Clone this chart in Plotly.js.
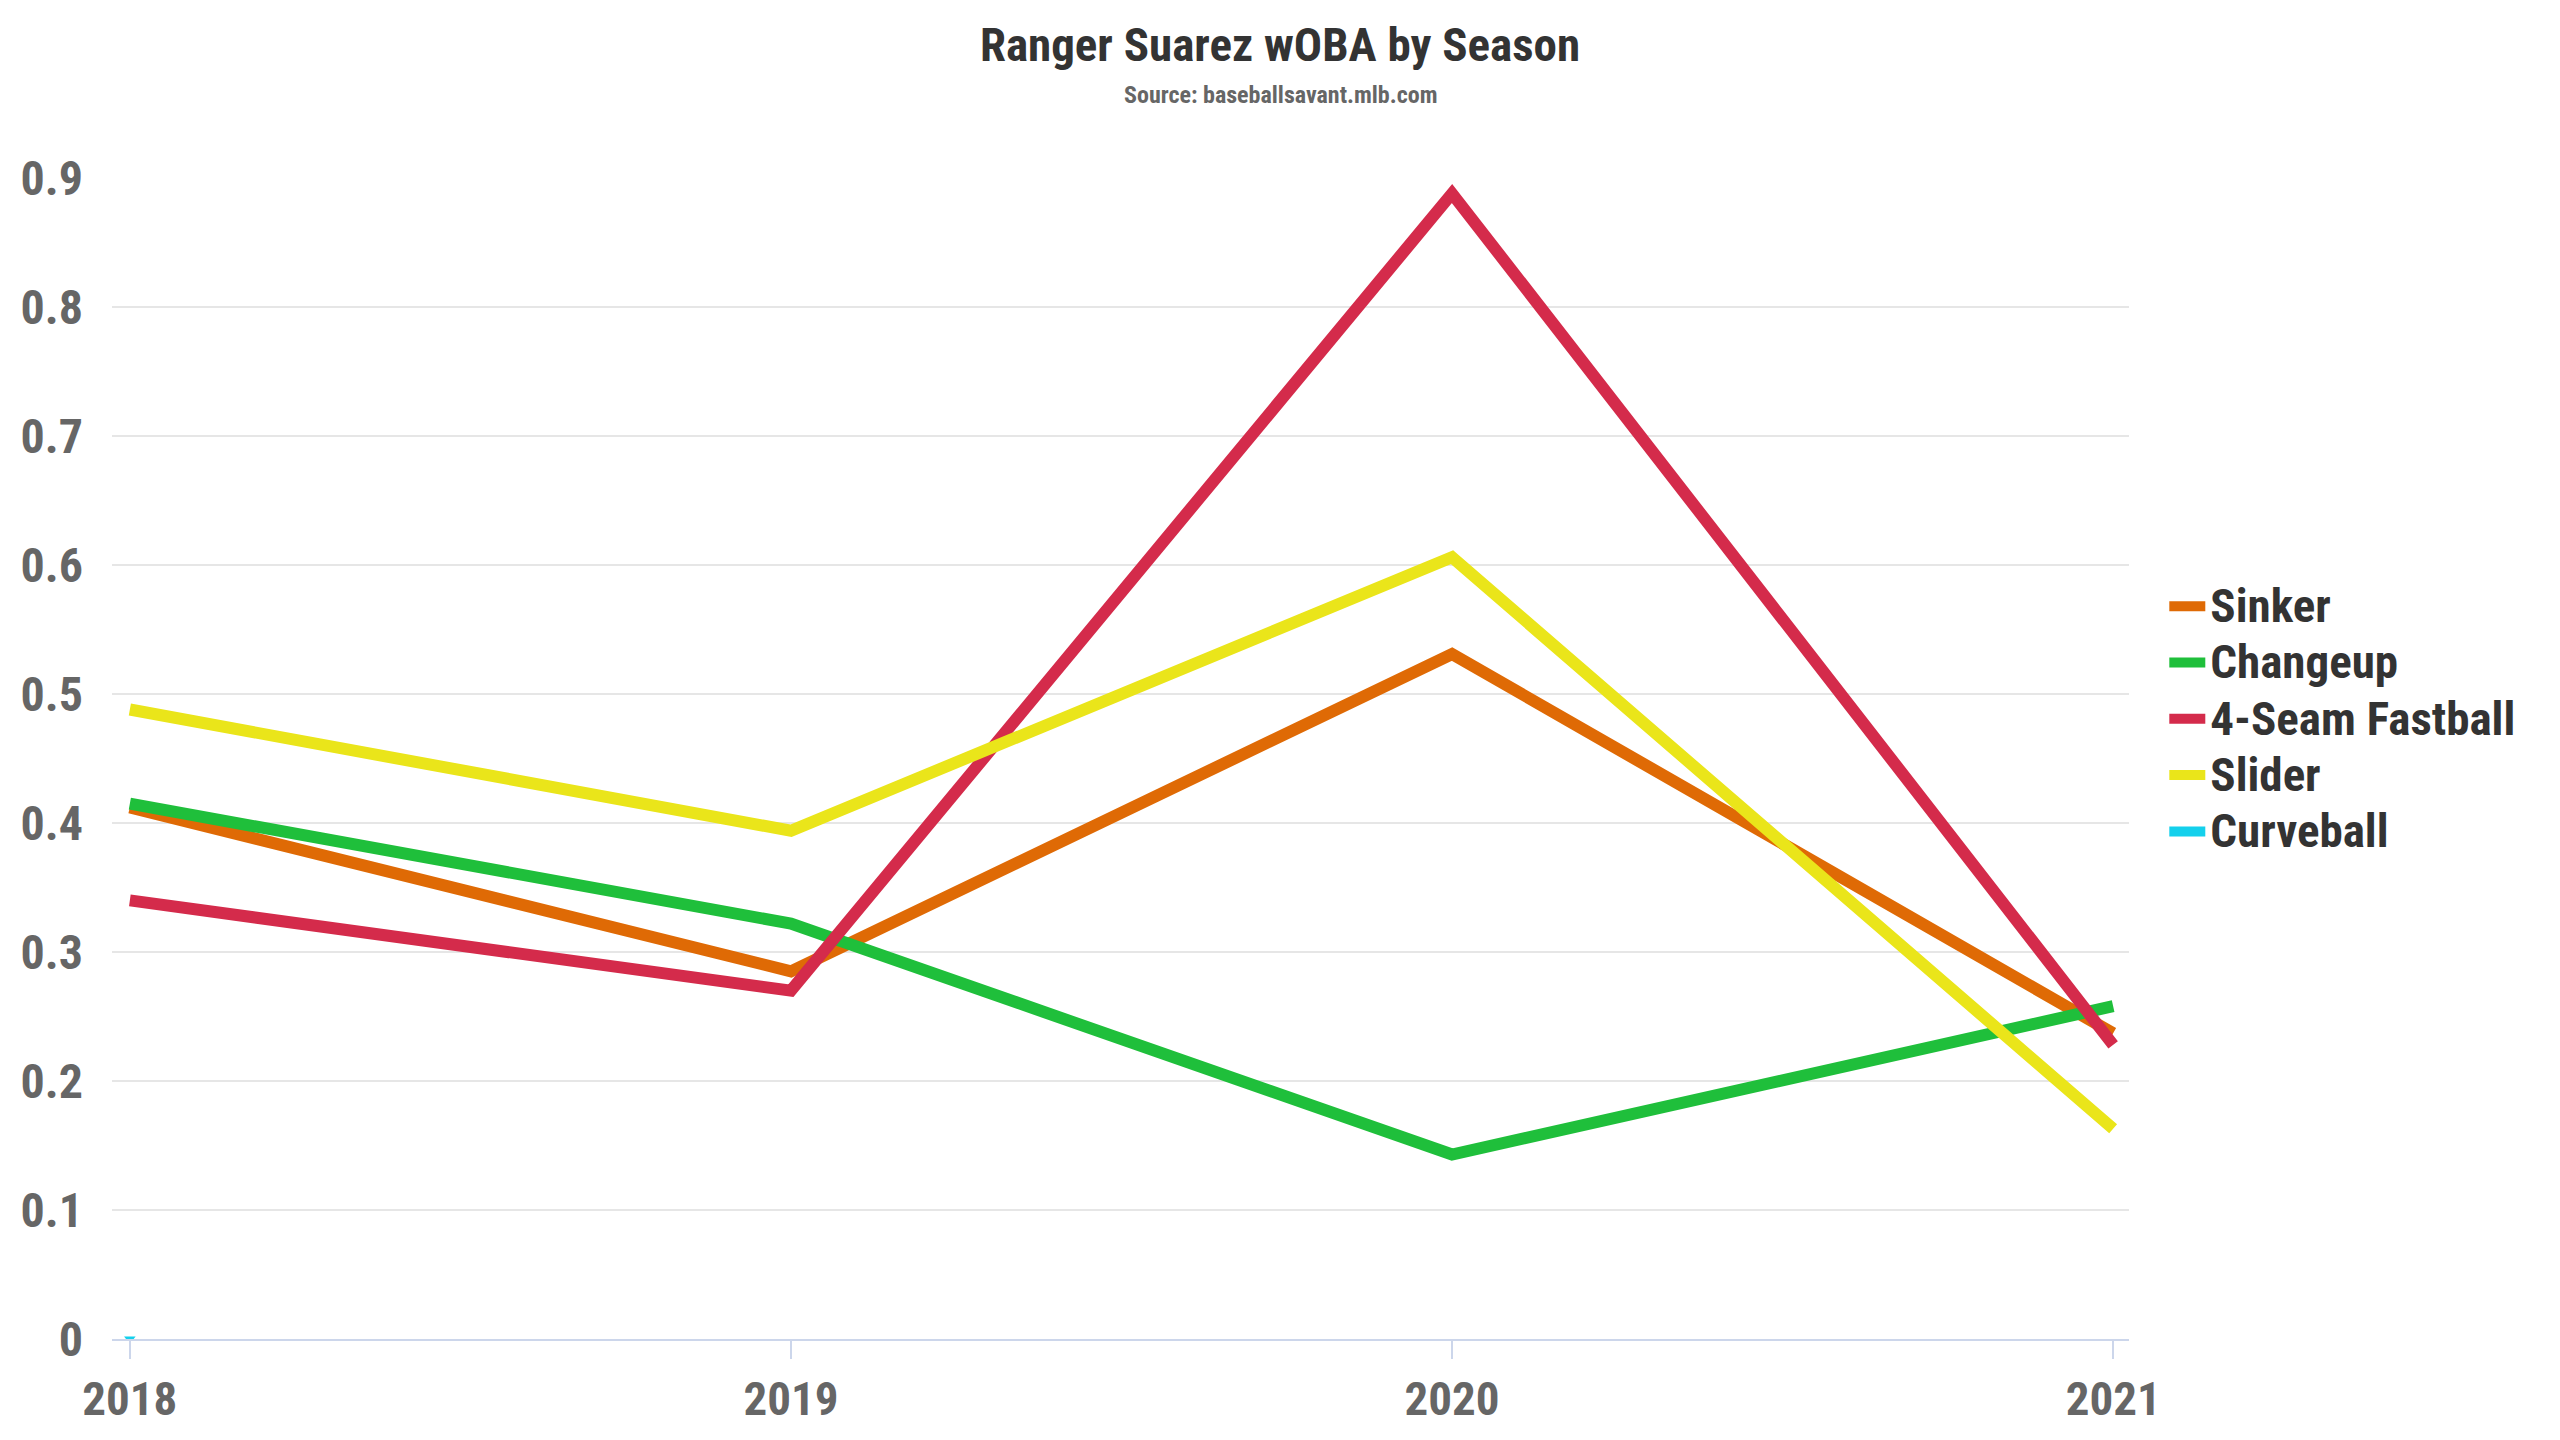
<!DOCTYPE html>
<html>
<head>
<meta charset="utf-8">
<script src="https://cdn.plot.ly/plotly-3.0.1.min.js"></script>
<style>
  html, body { margin: 0; padding: 0; background: #ffffff; }
  #chart { width: 2560px; height: 1440px; }
</style>
</head>
<body>
<div id="chart"></div>
<script>
// seasons on the x axis
var seasons = [2018, 2019, 2020, 2021];
var seasonLabels = ["2018", "2019", "2020", "2021"];

// wOBA per pitch type
var sinker = [0.412, 0.285, 0.531, 0.237];
var changeup = [0.415, 0.322, 0.143, 0.258];
var fastball = [0.340, 0.270, 0.888, 0.228];
var slider = [0.488, 0.394, 0.606, 0.163];
var curveball = [0, null, null, null];

var yTicks = [0, 0.1, 0.2, 0.3, 0.4, 0.5, 0.6, 0.7, 0.8, 0.9];
var yTickLabels = ["0", "0.1", "0.2", "0.3", "0.4", "0.5", "0.6", "0.7", "0.8", "0.9"];

var FONT = '"Roboto Condensed", "Liberation Sans Narrow", "DejaVu Sans Condensed", Roboto, sans-serif';

// legend rows are tighter than plotly's default for this text size,
// so the legend font is smaller and the names are bumped up with a span
function legendName(name) {
  return '<span style="font-size:47px">' + name + '</span>';
}

function lineTrace(name, ys, color) {
  return {
    x: seasons,
    y: ys,
    name: legendName(name),
    type: "scatter",
    mode: "lines",
    line: {color: color, width: 12},
    hoverinfo: "x+y+name"
  };
}

var data = [
  lineTrace("Sinker", sinker, "#df6a05"),
  lineTrace("Changeup", changeup, "#1fbf3b"),
  lineTrace("4-Seam Fastball", fastball, "#d42b4b"),
  lineTrace("Slider", slider, "#eae51a"),
  lineTrace("Curveball", curveball, "#14d0ec"),
  // curveball only has one point, show it as a small marker
  {
    x: seasons,
    y: curveball,
    type: "scatter",
    mode: "markers",
    marker: {symbol: "triangle-down", size: 10, color: "#14d0ec"},
    showlegend: false,
    hoverinfo: "skip"
  }
];

var layout = {
  width: 2560,
  height: 1440,
  paper_bgcolor: "#ffffff",
  plot_bgcolor: "#ffffff",
  font: {family: FONT, color: "#333333"},
  margin: {l: 112, r: 431, t: 178, b: 101},
  title: {
    text: "Ranger Suarez wOBA by Season",
    font: {family: FONT, size: 47, color: "#333333", weight: "bold"},
    x: 0.5,
    xref: "container",
    y: 1 - 45 / 1440,
    yref: "container",
    yanchor: "middle"
  },
  annotations: [{
    text: "Source: baseballsavant.mlb.com",
    xref: "paper",
    yref: "paper",
    x: (1280 - 112) / 2017,
    y: 1 + (178 - 95) / 1161,
    yanchor: "middle",
    showarrow: false,
    font: {family: FONT, size: 24, color: "#666666", weight: "bold"}
  }],
  xaxis: {
    range: [2017.973, 2021.024],
    tickvals: seasons,
    ticktext: seasonLabels,
    showgrid: false,
    zeroline: false,
    showline: true,
    linecolor: "#ccd6eb",
    linewidth: 2,
    ticks: "outside",
    ticklen: 18,
    tickwidth: 2,
    tickcolor: "#ccd6eb",
    tickfont: {family: FONT, size: 47, color: "#666666", weight: "bold"}
  },
  yaxis: {
    range: [0, 0.9],
    tickvals: yTicks,
    ticktext: yTickLabels,
    showgrid: true,
    gridcolor: "#e6e6e6",
    gridwidth: 2,
    zeroline: false,
    showline: false,
    ticks: "",
    ticklabelstandoff: 28,
    tickfont: {family: FONT, size: 48, color: "#666666", weight: "bold"}
  },
  legend: {
    x: 1.0175,
    xanchor: "left",
    y: 0.534,
    yanchor: "middle",
    bgcolor: "rgba(0,0,0,0)",
    font: {family: FONT, size: 41, color: "#333333", weight: "bold"},
    tracegroupgap: 0,
    itemwidth: 36
  },
  showlegend: true
};

Plotly.newPlot("chart", data, layout, {displayModeBar: false});
</script>
</body>
</html>
